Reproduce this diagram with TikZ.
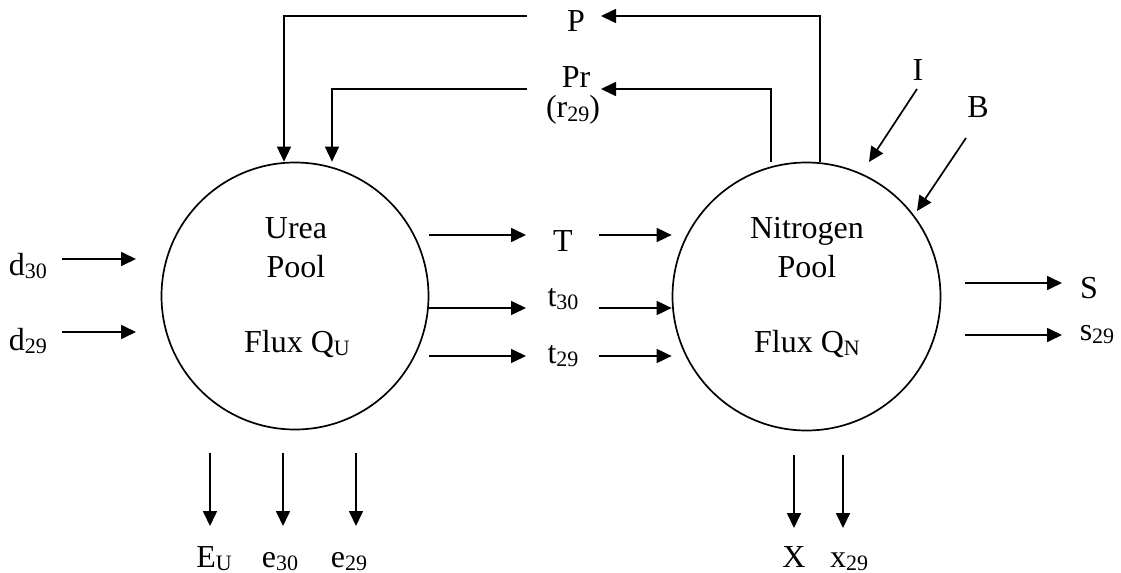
\documentclass[tikz,border=0pt]{standalone}
\usepackage{fontspec}
\setmainfont{Liberation Serif}
\usetikzlibrary{arrows.meta}

\newcommand{\subs}[1]{\raisebox{-1.75pt}{\fontsize{11}{11}\selectfont#1}}

\tikzset{
  flow/.style={line width=0.85pt,-{Triangle[length=7.5pt,width=7pt]}},
  pool/.style={circle,draw,line width=0.85pt,inner sep=0pt},
  lbl/.style={anchor=base,inner sep=0pt,font=\fontsize{16}{19.5}\selectfont}
}

\begin{document}
\begin{tikzpicture}[x=0.5pt,y=-0.5pt]
  \useasboundingbox (0,0) rectangle (1121,573);
  % the two pools
  \node[pool,minimum size=133.5pt] (urea) at (295,296) {};
  \node[pool,minimum size=134pt] (nitro) at (806.5,296.5) {};
  \node[lbl] (ureaA) at (296,238) {Urea};
  \node[lbl] (ureaB) at (296,277) {Pool};
  \node[lbl] (ureaQ) at (297,352) {Flux Q\subs{U}};
  \node[lbl] (nitroA) at (807,238) {Nitrogen};
  \node[lbl] (nitroB) at (807,277) {Pool};
  \node[lbl] (nitroQ) at (807,352) {Flux Q\subs{N}};

  % P and Pr back to the urea pool
  \node[lbl] (P) at (576,32) {P};
  \node[lbl] (Pr) at (576,87) {Pr};
  \node[lbl] (r29) at (573,118) {(r\subs{29})};
  \coordinate (P-in) at (601,16);
  \coordinate (P-out) at (527,16);
  \coordinate (Pr-in) at (601,89);
  \coordinate (Pr-out) at (527,89);
  \draw[flow] ([xshift=6.75pt]nitro.north) |- (P-in);
  \draw[flow] ([xshift=-17.75pt]nitro.north) |- (Pr-in);
  \draw[flow] (P-out) -| ([xshift=-5.5pt]urea.north);
  \draw[flow] (Pr-out) -| ([xshift=18.5pt]urea.north);

  % transfer urea -> nitrogen
  \foreach \n/\y in {T/235,t30/308,t29/356} {
    \coordinate (\n-a) at (526,\y);
    \coordinate (\n-b) at (599,\y);
    \draw[flow] (urea.east |- \n-a) -- (\n-a);
    \draw[flow] (\n-b) -- (nitro.west |- \n-b);
  }

  % free arrows
  \foreach \n/\xa/\ya/\xb/\yb in {d30/62/259/136/259, d29/62/332/136/332,
      I/917/89/869/162, B/966/138/917/211, S/965/283/1062/283, s29/965/335/1062/335,
      EU/210/453/210/526, e30/283/453/283/526, e29/356/453/356/526,
      X/794/455/794/528, x29/843/455/843/528} {
    \coordinate (\n-from) at (\xa,\ya);
    \coordinate (\n-to) at (\xb,\yb);
    \draw[flow] (\n-from) -- (\n-to);
  }

  \foreach \n/\x/\y/\txt in {d30/28/275/{d\subs{30}}, d29/28/350/{d\subs{29}},
      T/563/251/T, t30/563/306/{t\subs{30}}, t29/563/363/{t\subs{29}},
      I/918/80/I, B/978/118/B, S/1089/298/S, s29/1097/340/{s\subs{29}},
      EU/214/567/{E\subs{U}}, e30/280/567/{e\subs{30}}, e29/349/567/{e\subs{29}},
      X/794/567/X, x29/849/567/{x\subs{29}}} {
    \node[lbl] (\n) at (\x,\y) {\txt};
  }
\end{tikzpicture}
\end{document}
